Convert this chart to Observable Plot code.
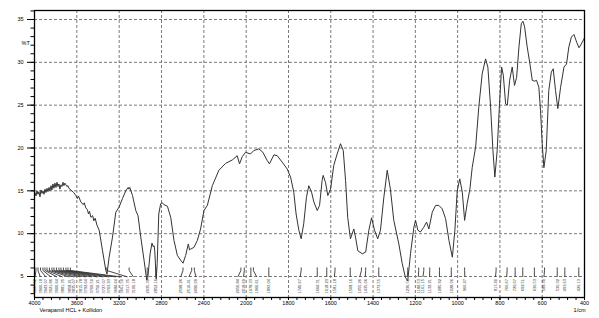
<!DOCTYPE html>
<html><head><meta charset="utf-8">
<script src="https://cdn.jsdelivr.net/npm/d3@7"></script>
<script src="https://cdn.jsdelivr.net/npm/@observablehq/plot@0.6"></script>
<style>body{margin:0;background:#fff}svg{display:block}</style>
</head><body><div id="chart"></div>
<script>
const wavenumber = [4000,3995,3986,3976,3967,3958,3948,3939,3929,3920,3910,3901,3892,3882,3873,3863,3854,3844,3835,3826,3816,3807,3797,3788,3778,3769,3760,3750,3741,3731,3722,3713,3703,3694,3684,3675,3656,3630,3609,3595,3585,3562,3540,3530,3515,3500,3490,3480,3467,3450,3440,3427,3410,3389,3357,3326,3315,3295,3263,3232,3201,3169,3138,3115,3108,3100,3074,3043,3022,2996,2965,2940,2930,2908,2890,2880,2870,2864,2850,2841,2826,2808,2792,2779,2744,2713,2682,2650,2619,2597,2572,2547,2535,2525,2494,2462,2431,2399,2367,2320,2258,2195,2132,2085,2063,2037,2006,1980,1964,1940,1921,1901,1890,1869,1853,1830,1806,1790,1775,1764,1751,1740,1728,1715,1704,1691,1680,1664,1653,1641,1636,1625,1614,1601,1586,1570,1554,1541,1530,1520,1507,1491,1483,1472,1451,1435,1420,1407,1393,1378,1365,1349,1333,1318,1302,1278,1262,1247,1236,1223,1207,1199,1188,1176,1160,1147,1136,1120,1104,1089,1073,1057,1041,1025,1013,1002,990,978,967,955,942,931,915,900,884,868,857,844,833,824,813,802,792,784,773,765,754,742,731,721,710,699,691,683,671,658,647,636,627,616,608,600,592,581,569,557,548,537,526,513,497,485,474,462,450,437,426,415,402,400];
const transmittance = [14.8,14.8,14.4,15.0,14.6,14.9,14.3,15.1,14.7,15.0,14.6,15.2,14.8,15.3,14.9,15.4,15.0,15.6,15.1,15.8,15.3,15.9,15.4,16.0,15.5,15.8,15.2,15.7,15.5,16.0,15.6,15.9,15.7,15.5,15.6,15.3,15.1,14.8,14.45,14.1,14.4,13.7,13.4,13.6,13.0,12.8,12.3,12.6,11.9,12.1,11.5,11.8,11.0,10.4,8.0,5.7,5.3,7.25,9.6,12.5,13.1,14.1,15.0,15.4,15.2,15.4,14.45,12.7,12.1,9.6,6.9,4.6,4.8,7.65,8.9,8.5,8.6,8.0,4.7,6.5,12.3,13.5,13.6,13.4,13.2,11.9,9.2,7.45,6.9,6.55,7.45,8.8,8.1,8.2,8.4,9.2,10.55,12.7,13.3,15.6,17.4,18.2,18.6,19.1,18.15,19.0,19.5,19.3,19.7,19.9,19.5,18.55,18.15,19.2,19.1,18.35,17.55,16.6,14.85,12.3,10.4,9.4,11.15,14.25,15.6,14.85,13.7,12.7,13.3,16.2,16.8,16.0,14.45,15.2,17.95,19.3,20.5,19.7,16.2,11.9,9.4,10.55,9.6,8.0,7.65,7.85,10.4,11.85,10.4,9.4,10.4,14.25,17.4,15.2,11.55,8.8,6.5,4.9,4.5,7.65,10.75,11.55,10.4,10.2,10.75,11.35,10.55,12.5,13.3,13.3,12.9,11.75,9.2,7.25,10.4,15.0,16.4,14.85,11.55,13.5,15.2,17.75,20.1,24.75,28.65,30.4,29.45,24.75,19.7,16.6,19.7,25.15,29.45,28.5,25.15,25.0,27.9,29.45,27.3,28.25,31.8,34.5,34.8,34.1,31.8,29.8,27.9,27.8,27.9,27.1,24.4,20.5,17.7,19.7,26.7,28.85,29.25,26.7,24.6,27.1,29.45,29.8,31.8,32.95,33.25,32.35,31.7,32.15,32.75,32.9];

const peakWn  = [3986,3967,3943,3920,3901,3882,3859,3835,3816,3793,3769,3750,3727,3703,3684,3661,3317,3106,2935,2852,2597,2515,2490,2050,2018,1978,1966,1893,1740,1664,1619,1580,1508,1455,1435,1373,1236,1184,1160,1132,1086,1030,967,818,766,728,692,637,589,529,493,427];
const labelWn = [3995,3945,3892,3844,3788,3734,3672,3625,3568,3515,3461,3404,3348,3295,3232,3178,3121,3065,2935,2855,2619,2541,2474,2080,2025,1978,1950,1893,1745,1664,1619,1583,1508,1463,1437,1373,1238,1186,1164,1133,1086,1030,966,821,768,728,692,637,592,529,493,427];
const peakText = ["3987.42","3966.18","3943.07","3921.86","3900.64","3881.35","3858.21","3835.07","3815.78","3792.64","3769.50","3750.21","3727.07","3703.93","3684.64","3661.50","3317.35","3106.18","2935.30","2852.16","2598.26","2516.41","2490.09","2050.84","2018.69","1978.33","1966.61","1893.04","1740.67","1664.31","1618.23","1581.18","1508.16","1455.26","1435.06","1373.55","1236.51","1184.53","1161.15","1132.21","1085.92","1028.06","966.27","817.40","766.67","729.07","692.51","636.53","588.30","530.32","493.63","426.13"];

const majorX = [4000,3600,3200,2800,2400,2000,1800,1600,1400,1200,1000,800,600,400];
const majorY = [5,10,15,20,25,30,35];
const minorX = d3.range(4000, 2000, -80).concat(d3.range(2000, 399, -40));
const minorY = d3.range(3, 37, 1);

const spectrum = wavenumber.map((w, i) => ({w, t: transmittance[i]}));
const idx = peakWn.map((_, i) => i);
const font = "'Liberation Sans', Arial, sans-serif";

const chart = Plot.plot({
  width: 599, height: 318,
  marginLeft: 34, marginRight: 15, marginTop: 10, marginBottom: 21,
  style: {fontFamily: font, background: "#fff"},
  x: {type: "linear", domain: [4000, 2000, 400], range: [34, 245.7, 584], label: null},
  y: {domain: [2.55, 36.05], label: null},
  marks: [
    Plot.gridX(majorX.filter(d => d !== 4000 && d !== 400), {stroke: "#7a7a7a", strokeOpacity: 1, strokeDasharray: "3,2"}),
    Plot.gridY(majorY, {stroke: "#7a7a7a", strokeOpacity: 1, strokeDasharray: "3,2"}),
    Plot.axisX(minorX, {tickSize: 3, text: null, stroke: "#000", label: null}),
    Plot.axisX(majorX, {tickSize: 3, tickPadding: 1, fontSize: 5.5, tickFormat: d => String(d), stroke: "#000", fill: "#000", label: null}),
    Plot.axisY(minorY, {tickSize: 3.5, text: null, stroke: "#000", label: null}),
    Plot.axisY(majorY, {tickSize: 7, tickPadding: 4, fontSize: 5.5, tickFormat: d => String(d), stroke: "#000", fill: "#000", label: null}),
    Plot.link(idx, {x1: i => peakWn[i], x2: i => peakWn[i], y1: () => 6.05, y2: () => 5.7, stroke: "#333", strokeWidth: 0.9}),
    Plot.link(idx, {x1: i => peakWn[i], x2: i => labelWn[i], y1: () => 5.7, y2: () => 4.95, stroke: "#333", strokeWidth: 0.9}),
    Plot.text(idx, {x: i => labelWn[i], y: () => 4.7, text: i => peakText[i], rotate: -90, textAnchor: "end", fontSize: 4, fill: "#333"}),
    Plot.line(spectrum, {x: "w", y: "t", stroke: "#333", strokeWidth: 1}),
    Plot.frame({stroke: "#000", strokeWidth: 1.3}),
    Plot.text(["%T"], {frameAnchor: "top-left", dx: -13, dy: 31, fontSize: 5.5, fill: "#000"}),
    Plot.text(["Verapamil HCL + Kollidon"], {frameAnchor: "bottom-left", dx: 5, dy: 14.5, textAnchor: "start", fontSize: 5.5, fill: "#000"}),
    Plot.text(["1/cm"], {frameAnchor: "bottom-right", dx: 1, dy: 14.5, textAnchor: "end", fontSize: 5.5, fill: "#000"})
  ]
});
document.getElementById("chart").appendChild(chart);
</script></body></html>
